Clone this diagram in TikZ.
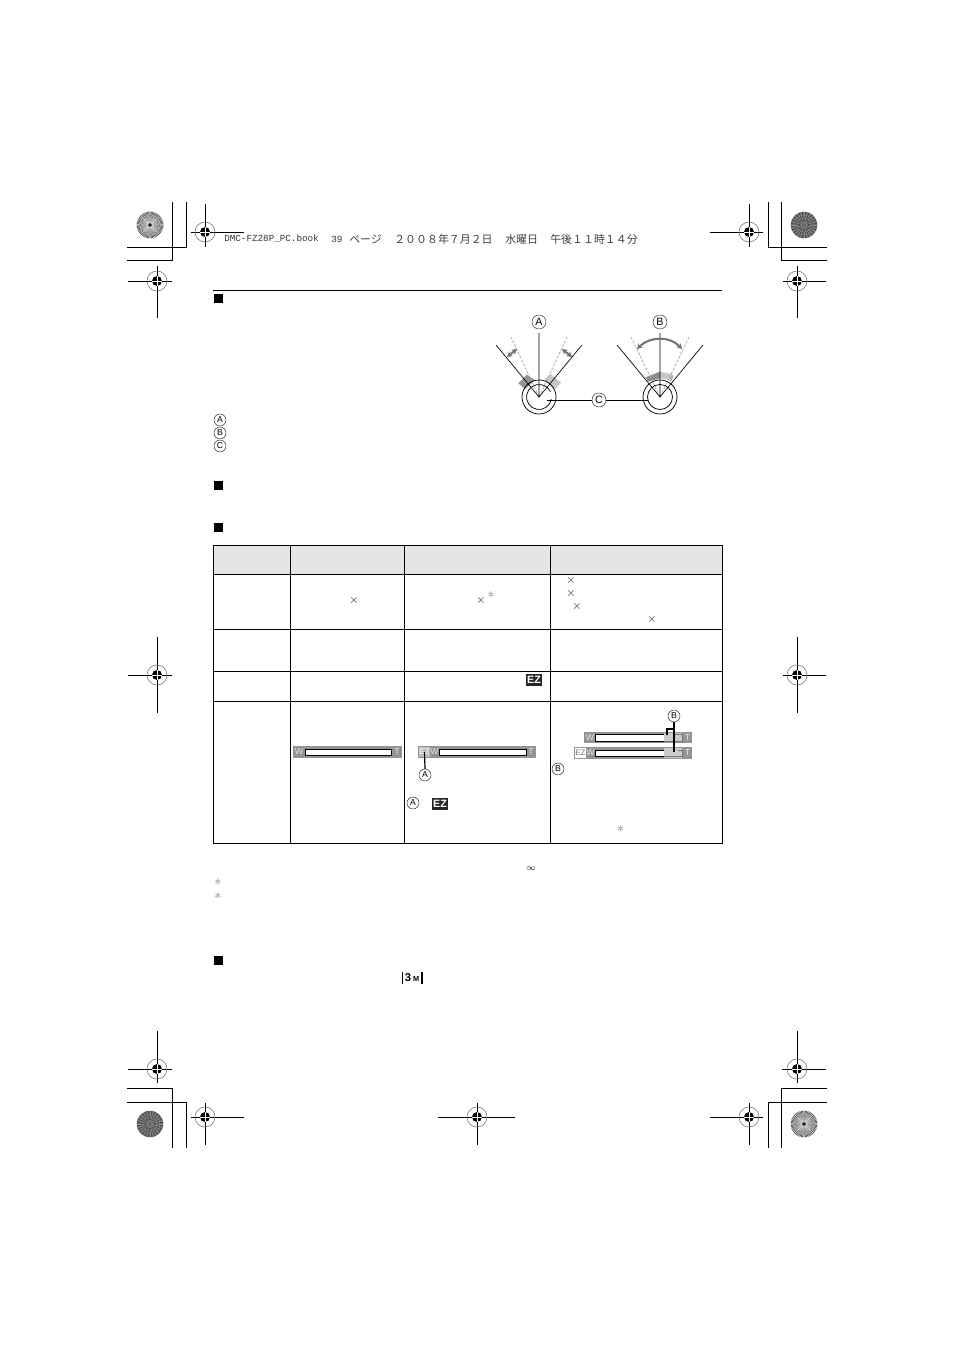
\documentclass[tikz,border=0pt]{standalone}
\usepackage{fontspec}
\setmainfont{Liberation Sans}
\newfontfamily\cjkf{Noto Sans CJK JP}
\newfontfamily\monof{Liberation Mono}
\usetikzlibrary{arrows.meta}
\definecolor{barg}{gray}{0.58}
\definecolor{hdrg}{gray}{0.90}
\tikzset{
  x=0.75pt,y=-0.75pt,
  hline/.style={black,line width=0.75pt},
  tline/.style={black,line width=0.75pt},
  circ/.style={circle,draw=black!85,line width=0.35pt,inner sep=0pt,minimum size=9pt,font=\fontsize{6.5}{7}\selectfont,fill=white},
  hdr/.style={anchor=west,inner sep=0pt,text=black!75,font=\fontsize{8.2}{9}\cjkf},
  hdrl/.style={anchor=west,inner sep=0pt,text=black!80,font=\fontsize{6.95}{8}\monof},
  mult/.style={inner sep=0pt,text=black!85,font=\fontsize{9.5}{9}\selectfont},
  star/.style={inner sep=0pt,text=black!50,font=\fontsize{11}{11}\selectfont},
  ezicon/.style={fill=black!85,text=white,inner sep=0pt,minimum width=11.5pt,minimum height=9pt,font=\bfseries\fontsize{8}{8}\selectfont},
  ezbox/.style={inner sep=0pt,minimum width=7.8pt,minimum height=7pt,font=\fontsize{6}{7}\selectfont},
  barl/.style={inner sep=0pt,text=black!10,font=\fontsize{6.5}{7}\selectfont},
  arrowg/.style={black!55,line width=1.5pt,{Stealth[length=4pt,width=4.5pt]}-{Stealth[length=4pt,width=4.5pt]}},
  dashg/.style={black!35,line width=0.55pt,dash pattern=on 2pt off 1.2pt},
  dlin/.style={black,line width=0.5pt},
  ring/.style={black,line width=0.55pt}
}
\newcommand{\regm}[6]{% cx cy x1 x2 y1 y2
  \draw[black,line width=0.7pt] (#3,#2)--(#4,#2) (#1,#5)--(#1,#6);
  \draw[black!55,line width=0.4pt] (#1,#2) circle[radius=10];
  \fill[black] (#1,#2) circle[radius=5];
  \draw[white,line width=0.3pt] (#1-5,#2)--(#1+5,#2) (#1,#2-5)--(#1,#2+5);
}
\newcommand{\wheell}[2]{% light sunburst
  \fill[black!50] (#1,#2) circle[radius=13.3];
  \foreach \a in {0,6,...,354}{\draw[black!85,line width=0.3pt] (#1,#2)--++(\a:13.3);}
  \foreach \a in {3,9,...,357}{\draw[white!85!black,line width=0.3pt] (#1,#2)++(\a:2)--++(\a:11.3);}
  \fill[black!80] (#1,#2) circle[radius=0.6];
}
\newcommand{\wheeld}[2]{% dark noisy disc
  \fill[black!60] (#1,#2) circle[radius=13.3];
  \foreach \a in {0,15,...,345}{\draw[black!42,line width=0.35pt] (#1,#2)++(\a:2)--++(\a:11);}
  \foreach \a in {7.5,22.5,...,352.5}{\draw[black!78,line width=0.3pt] (#1,#2)++(\a:3)--++(\a:10);}
  \foreach \r in {4,7,10}{\draw[black!50,line width=0.3pt] (#1,#2) circle[radius=\r];}
}
\begin{document}
\begin{tikzpicture}
\useasboundingbox[fill=white] (0,0) rectangle (954,1351);
% crop marks
\draw[hline] (127,261)--(172,261)--(172,202) (127,248)--(186,248)--(186,202);
\draw[hline] (827,248)--(768,248)--(768,202) (827,261)--(781,261)--(781,202);
\draw[hline] (127,1088)--(172,1088)--(172,1148) (127,1102)--(186,1102)--(186,1148);
\draw[hline] (827,1088)--(781,1088)--(781,1148) (827,1102)--(768,1102)--(768,1148);
\wheell{150}{225}\wheeld{804}{225}\wheeld{150}{1124}\wheell{804}{1124}
\regm{205}{232}{191}{244}{204}{247}
\regm{749}{232}{710}{763}{204}{247}
\regm{157}{281}{128}{172}{266}{318}
\regm{797}{281}{783}{826}{266}{318}
\regm{157}{675}{128}{172}{637}{713}
\regm{797}{675}{783}{826}{637}{713}
\regm{157}{1069}{128}{172}{1031}{1083}
\regm{797}{1069}{782}{826}{1031}{1083}
\regm{205}{1117}{191}{244}{1103}{1145}
\regm{749}{1117}{710}{763}{1103}{1145}
\regm{477}{1117}{438}{515}{1103}{1145}
% header text
\node[hdrl] (h1) at (224,239) {DMC-FZ28P\_PC.book};
\node[hdrl] (h2) at (331,239) {39};
\node[hdr] (h3) at (349,239) {ページ};
\node[hdr] (h4) at (394,239) {２００８年７月２日};
\node[hdr] (h5) at (505,239) {水曜日};
\node[hdr] (h6) at (550,239) {午後１１時１４分};
\draw[black,line width=0.8pt] (213,290.5)--(722,290.5);
% section bullets
\foreach \y in {294,481,523,956}{\fill[black] (214,\y) rectangle (223,\y+9);}
% labels A B C at left
\node[circ] (la) at (220,420) {A};
\node[circ] (lb) at (220,433) {B};
\node[circ] (lc) at (220,446) {C};
% dial diagram
\fill[black!42] (518.3,383.3)--(526.7,374.7)--(535,380)--(525,389.3)--cycle;
\fill[black!22] (544,380)--(550.7,374)--(561,382.7)--(555,389.3)--cycle;
\fill[black!45] (645.7,377.3)--(660,371.7)--(660,378.3)--(648.3,381.7)--cycle;
\fill[black!22] (660,371.7)--(672,374)--(670,380)--(660,378.3)--cycle;
\fill[black!35] (672,374)--(673.3,377.3)--(670.7,381.7)--(670,380)--cycle;
\draw[dashg] (539,397)--(511,337) (539,397)--(567,337);
\draw[dashg] (660,397)--(631,337) (660,397)--(689,337);
\draw[dlin] (496,345)--(539,397)--(582,345) (539,397)--(539,333);
\draw[dlin] (617,345)--(660,397)--(703,345) (660,397)--(660,333);
\draw[arrowg] (507,357)--(517,349);
\draw[arrowg] (562,349)--(572,357);
\draw[arrowg] (637,349) .. controls (650,336) and (670,336) .. (682,349);
\draw[ring] (539,397) circle[radius=17];
\draw[ring] (539,397) ++(10:12.5) arc[start angle=10,end angle=335,radius=12.5];
\draw[ring] (660,397) circle[radius=17];
\draw[ring] (660,397) circle[radius=12.5];
\node[circ,minimum size=10.5pt,font=\fontsize{8}{8}\selectfont] (A) at (539,322) {A};
\node[circ,minimum size=10.5pt,font=\fontsize{8}{8}\selectfont] (B) at (660,322) {B};
\node[circ,minimum size=10.5pt,font=\fontsize{8}{8}\selectfont] (C) at (599,400) {C};
\coordinate (cl) at (547,400);
\coordinate (cr) at (648,400);
\draw[dlin] (C.west)--(cl);
\draw[dlin] (C.east)--(cr);
% table
\fill[hdrg] (213,545) rectangle (722,574);
\draw[tline] (213,545) rectangle (722,843);
\foreach \y in {574,629,671,701}{\draw[tline] (213,\y)--(722,\y);}
\foreach \x in {290,404,550}{\draw[tline] (\x,545)--(\x,843);}
% table symbols
\node[mult] (m1) at (354,600) {$\times$};
\node[mult] (m2) at (481,600) {$\times$};
\node[star] (s1) at (491,595) {$\ast$};
\node[mult] (m3) at (571,580) {$\times$};
\node[mult] (m4) at (571,593) {$\times$};
\node[mult] (m5) at (577,606) {$\times$};
\node[mult] (m6) at (652,619) {$\times$};
\node[ezicon] (ez1) at (534,680) {EZ};
% bar 1
\fill[barg] (293,746) rectangle (402,758);
\draw[black,fill=white,line width=0.6pt] (305,749.5) rectangle (391,755.5);
\node[barl] (w1) at (299,752) {W};
\node[barl] (t1) at (397,752) {T};
% bar 2
\fill[barg] (418,746) rectangle (536,758);
\draw[black,fill=white,line width=0.6pt] (439,749.5) rectangle (526,755.5);
\node[ezbox,fill=black!25,text=white] (ez2) at (424.5,752) {EZ};
\node[barl] (w2) at (434.5,752) {W};
\node[barl] (t2) at (531,752) {T};
\node[circ] (a2) at (425,775) {A};
\draw[black,line width=0.9pt] (ez2.center)--(a2.north);
\node[circ] (a3) at (413,803) {A};
\node[ezicon] (ez3) at (440,804) {EZ};
% bar 3 upper
\fill[barg] (584,732) rectangle (692,743);
\fill[white] (595,734.5) rectangle (664,741);
\fill[black!20] (664,733) rectangle (682,742);
\draw[black,line width=0.6pt] (664,734.5)--(595,734.5)--(595,741)--(664,741);
\draw[black!55,line width=0.5pt] (664,741)--(682,741)--(682,734.5)--(675,734.5);
\node[barl] (w3) at (590,737.5) {W};
\node[barl] (t3) at (687.5,737.5) {T};
% bar 3 lower
\fill[barg] (574,747) rectangle (692,759);
\fill[white] (595,750) rectangle (664,756.5);
\fill[black!20] (664,748) rectangle (682,757.5);
\draw[black,line width=0.6pt] (664,750)--(595,750)--(595,756.5)--(664,756.5);
\draw[black!55,line width=0.5pt] (664,756.5)--(682,756.5)--(682,750)--(678,750);
\node[ezbox,fill=white,text=black!55] (ez4) at (580.5,753) {EZ};
\node[barl] (w4) at (590.5,753) {W};
\node[barl] (t4) at (687.5,753) {T};
\node[circ] (b2) at (674,716) {B};
\coordinate (bend) at (674,752);
\draw[black,line width=0.9pt] (b2.south)--(bend);
\draw[black,line width=0.9pt] (667,735)--(667,729)--(674,729);
\node[circ] (b3) at (558,769) {B};
\node[star] (s2) at (620.5,829) {$\ast$};
% footnotes
\node[inner sep=0pt,font=\fontsize{6}{6}\selectfont] (inf) at (531,869) {$\infty$};
\node[star] (s3) at (218,882) {$\ast$};
\node[star] (s4) at (218,896) {$\ast$};
% 3M icon
\draw[black,line width=0.8pt] (402.5,972)--(402.5,984) (422,972)--(422,984);
\node[inner sep=0pt,font=\bfseries\fontsize{8.5}{8}\selectfont] (ic) at (412,978) {3\,{\fontsize{5.5}{6}\selectfont M}};
\end{tikzpicture}
\end{document}
